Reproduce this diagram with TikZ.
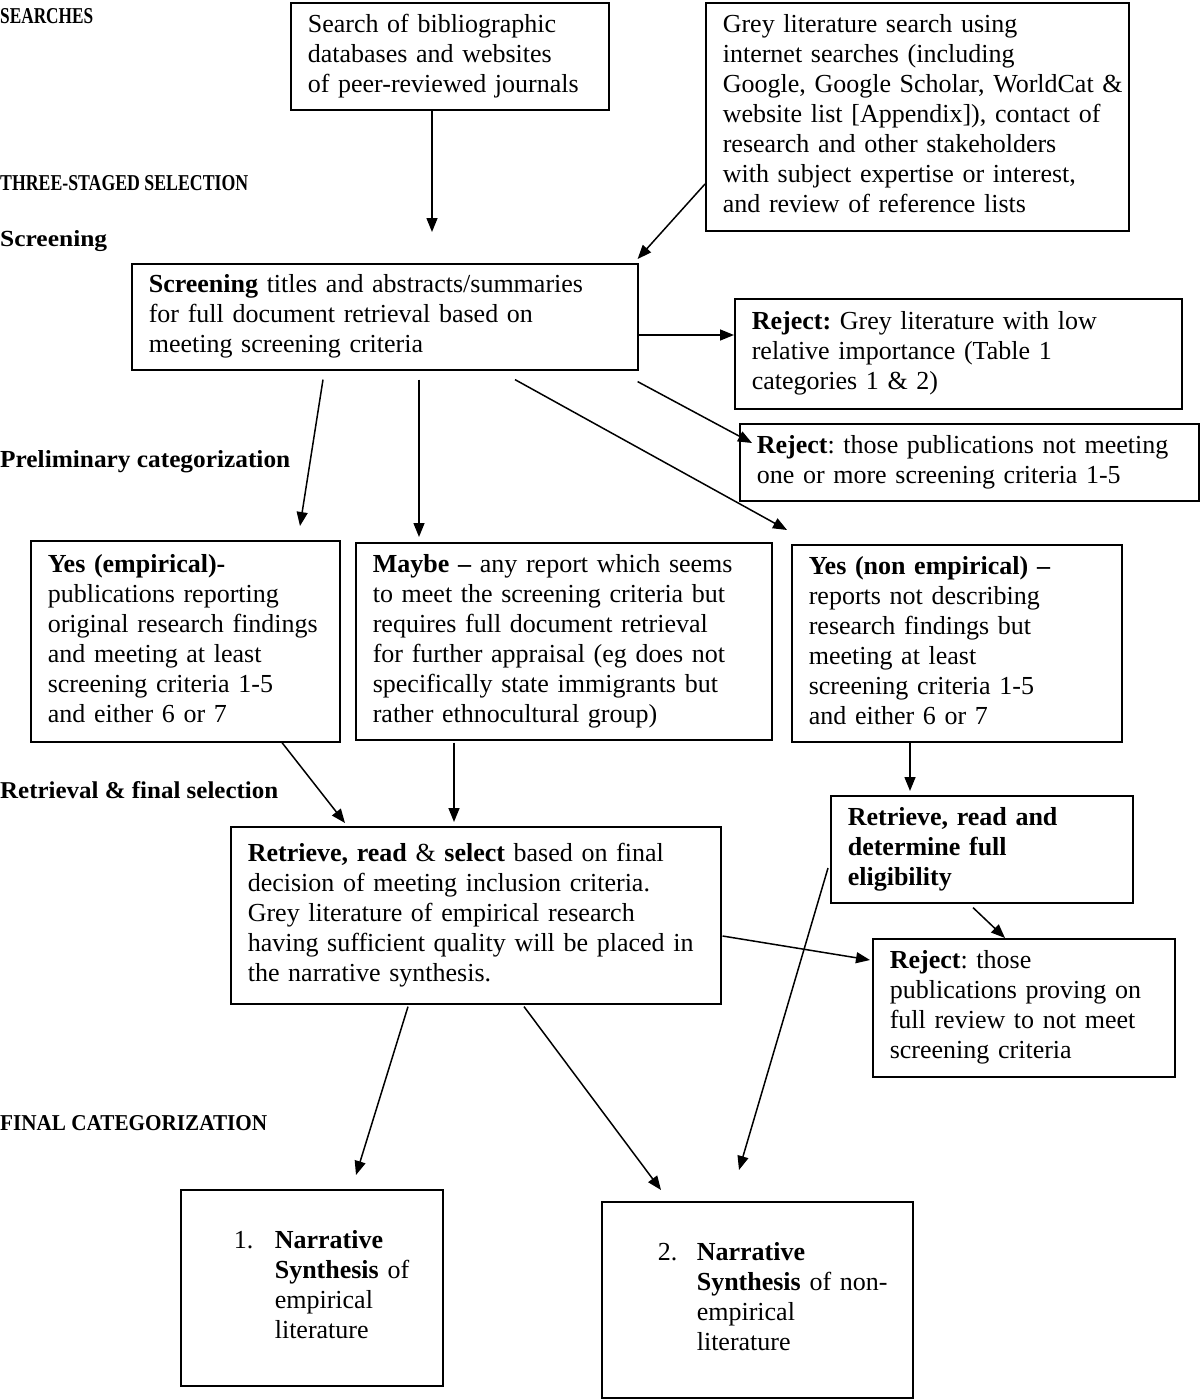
\documentclass[tikz,border=0pt]{standalone}
\usepackage{fontspec}
\setmainfont{Liberation Serif}
\usetikzlibrary{arrows.meta,calc}
\frenchspacing
\newcommand{\blk}[1]{\begin{tabular}{@{}l@{}}#1\end{tabular}}
\newcommand{\fitlbl}[3]{\resizebox{#1pt}{#2pt}{\bfseries #3}}
\begin{document}
\begin{tikzpicture}[x=1pt,y=-1pt,
  box/.style={draw,line width=1.6pt,anchor=north west,inner xsep=17pt,inner ysep=0pt,align=left,
    font=\fontsize{26}{30}\selectfont\frenchspacing},
  lbl/.style={anchor=base west,inner sep=0pt,font=\fontsize{22}{26}\selectfont},
  conn/.style={line width=1.5pt,-{Triangle[length=14pt,width=11pt]}}]
\useasboundingbox (0,0) rectangle (1200,1399);
% stage labels
\node[lbl] (l1) at (0,24) {\fitlbl{93}{15}{SEARCHES}};
\node[lbl] (l2) at (0,190) {\fitlbl{248}{15}{THREE-STAGED SELECTION}};
\node[lbl] (l3) at (0,246) {\fitlbl{107}{16}{Screening}};
\node[lbl] (l4) at (0,467) {\fitlbl{290}{17}{Preliminary categorization}};
\node[lbl] (l5) at (0,798) {\fitlbl{278}{17}{Retrieval \& final selection}};
\node[lbl] (l6) at (0,1130) {\fitlbl{267}{15}{FINAL CATEGORIZATION}};
% boxes
\node[box,text width=284pt,minimum height=107pt] (srch) at (290,2)
  {\blk{Search of bibliographic\\databases and websites\\of peer-reviewed journals}};
\node[box,text width=389pt,minimum height=228pt] (grey) at (705,2)
  {\blk{Grey literature search using\\internet searches (including\\Google, Google Scholar, WorldCat \&\\website list [Appendix]), contact of\\research and other stakeholders\\with subject expertise or interest,\\and review of reference lists}};
\node[box,text width=472pt,minimum height=106pt] (scr) at (131,263)
  {\blk{\textbf{Screening} titles and abstracts/summaries\\for full document retrieval based on\\meeting screening criteria}};
\node[box,text width=413pt,minimum height=110pt] (rej1) at (734,298)
  {\blk{\textbf{Reject:} Grey literature with low\\relative importance (Table 1\\categories 1 \& 2)}};
\node[box,text width=425pt,minimum height=77pt] (rej2) at (739,423)
  {\blk{\textbf{Reject}: those publications not meeting\\one or more screening criteria 1-5}};
\node[box,text width=275pt,minimum height=201pt] (yemp) at (30,540)
  {\blk{\textbf{Yes (empirical)-}\\publications reporting\\original research findings\\and meeting at least\\screening criteria 1-5\\and either 6 or 7}};
\node[box,text width=382pt,minimum height=197pt] (maybe) at (355,542)
  {\blk{\textbf{Maybe --} any report which seems\\to meet the screening criteria but\\requires full document retrieval\\for further appraisal (eg does not\\specifically state immigrants but\\rather ethnocultural group)}};
\node[box,text width=296pt,minimum height=197pt] (ynon) at (791,544)
  {\blk{\textbf{Yes (non empirical) --}\\reports not describing\\research findings but\\meeting at least\\screening criteria 1-5\\and either 6 or 7}};
\node[box,text width=456pt,minimum height=177pt] (ret) at (230,826)
  {\blk{\textbf{Retrieve, read} \& \textbf{select} based on final\\decision of meeting inclusion criteria.\\Grey literature of empirical research\\having sufficient quality will be placed in\\the narrative synthesis.}};
\node[box,text width=268pt,minimum height=107pt] (rrd) at (830,795)
  {\blk{\textbf{Retrieve, read and}\\\textbf{determine full}\\\textbf{eligibility}}};
\node[box,text width=268pt,minimum height=138pt] (rej3) at (872,938)
  {\blk{\textbf{Reject}: those\\publications proving on\\full review to not meet\\screening criteria}};
\node[box,inner xsep=53pt,text width=156pt,minimum height=196pt] (n1) at (180,1189)
  {\begin{tabular}{@{}p{41pt}@{}l@{}}1.&\textbf{Narrative}\\&\textbf{Synthesis} of\\&empirical\\&literature\end{tabular}};
\node[box,inner xsep=56pt,text width=199pt,minimum height=196pt] (n2) at (601,1201)
  {\begin{tabular}{@{}p{39pt}@{}l@{}}2.&\textbf{Narrative}\\&\textbf{Synthesis} of non-\\&empirical\\&literature\end{tabular}};
% connectors
\draw[conn] ($(srch.south west)+(142,0)$) -- ($(scr.north west)+(301,-31)$);
\draw[conn] ($(grey.north west)+(0,182)$) -- ($(scr.north east)+(-1,-4)$);
\draw[conn] ($(scr.north east)+(0,72)$) -- ($(rej1.north west)+(0,37)$);
\draw[conn] ($(scr.south east)+(-1,11)$) -- ($(rej2.north west)+(13,20)$);
\draw[conn] ($(scr.south west)+(192,9)$) -- ($(yemp.north west)+(270,-14)$);
\draw[conn] ($(scr.south west)+(288,9)$) -- ($(maybe.north west)+(64,-5)$);
\draw[conn] ($(scr.south west)+(384,9)$) -- ($(ynon.north west)+(-4,-14)$);
\draw[conn] ($(yemp.south west)+(252,0)$) -- ($(ret.north west)+(115,-3)$);
\draw[conn] ($(maybe.south west)+(99,2)$) -- ($(ret.north west)+(224,-4)$);
\draw[conn] ($(ynon.south west)+(119,0)$) -- ($(rrd.north west)+(80,-4)$);
\draw[conn] ($(ret.north east)+(1,110)$) -- ($(rej3.north west)+(-2,22)$);
\draw[conn] ($(rrd.south west)+(143,4)$) -- ($(rej3.north west)+(133,0)$);
\draw[conn] ($(ret.south west)+(178,2)$) -- ($(n1.north west)+(176,-14)$);
\draw[conn] ($(ret.south west)+(294,2)$) -- ($(n2.north west)+(60,-11)$);
\draw[conn] ($(rrd.north west)+(-2,73)$) -- ($(n2.north west)+(138,-31)$);
\end{tikzpicture}
\end{document}
